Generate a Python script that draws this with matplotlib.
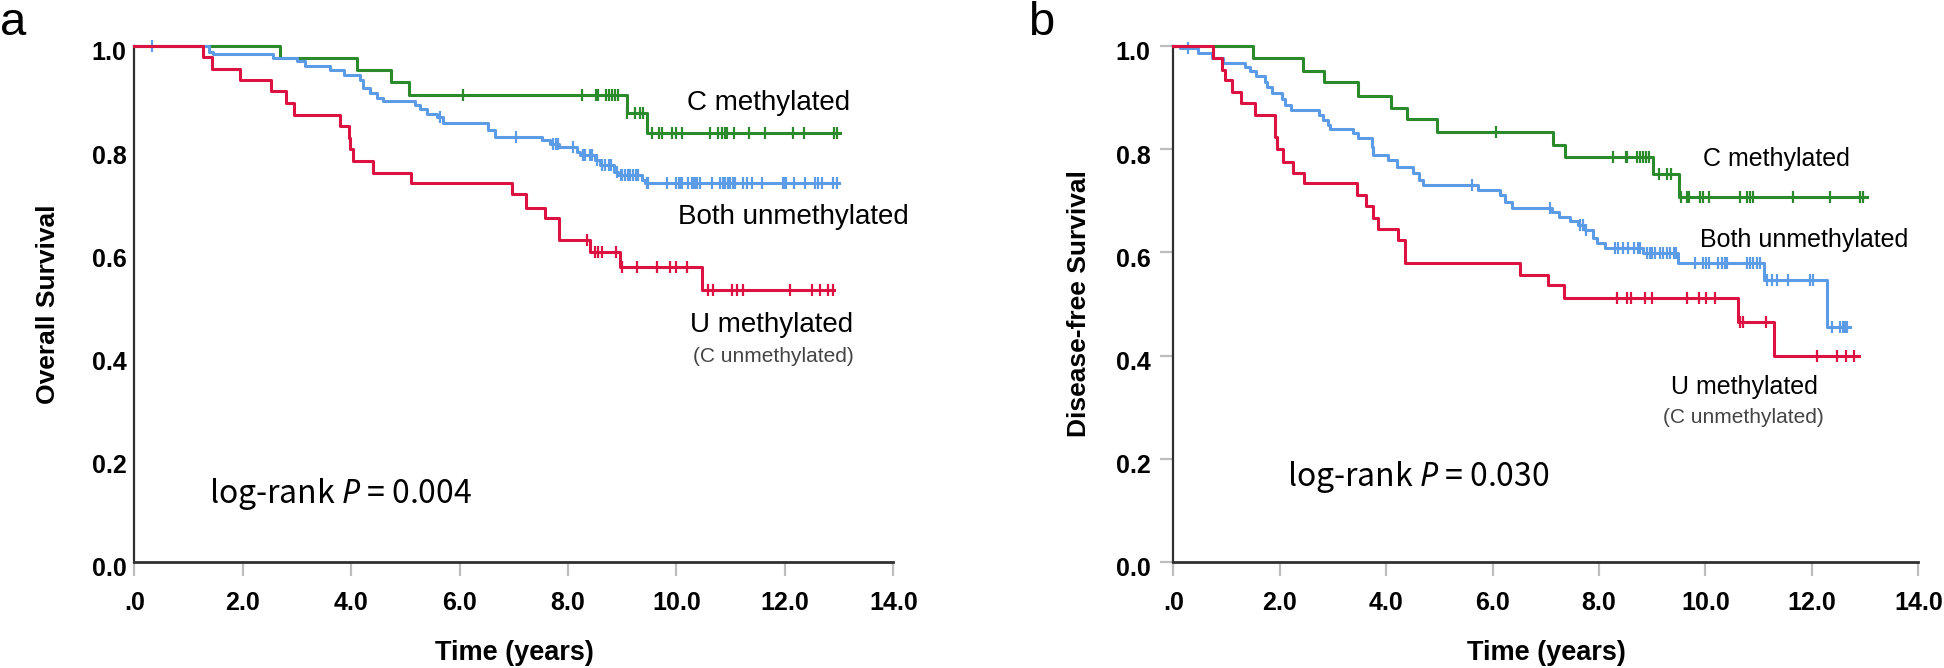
import matplotlib
matplotlib.use("Agg")
import matplotlib.pyplot as plt
import matplotlib.transforms as mtransforms
import numpy as np

plt.rcParams['font.family'] = ['Liberation Sans', 'DejaVu Sans']
plt.rcParams['mathtext.fontset'] = 'custom'
plt.rcParams['mathtext.it'] = 'Noto Sans:italic'
plt.rcParams['mathtext.rm'] = 'Noto Sans CJK KR'

# ---------------- data ----------------
x_ticks = [0, 2, 4, 6, 8, 10, 12, 14]
x_tick_labels = ['.0', '2.0', '4.0', '6.0', '8.0', '10.0', '12.0', '14.0']
y_ticks = [0.0, 0.2, 0.4, 0.6, 0.8, 1.0]
y_tick_labels = ['0.0', '0.2', '0.4', '0.6', '0.8', '1.0']

# Panel a: overall survival
a_green_times = [2.69, 4.11, 4.73, 5.07, 9.08, 9.45]
a_green_surv = [0.976, 0.953, 0.931, 0.905, 0.870, 0.831]
a_green_cens = [6.06, 8.25, 8.52, 8.55, 8.70, 8.75, 8.81, 8.87, 8.93, 9.08, 9.24,
                9.33, 9.39, 9.54, 9.67, 9.73, 9.91, 10.00, 10.10, 10.62, 10.77,
                10.84, 10.90, 10.93, 11.06, 11.33, 11.63, 12.15, 12.35, 12.91, 12.97]
a_green_end = 13.02

a_blue_times = [1.37, 1.46, 2.55, 3.00, 3.15, 3.61, 3.86, 4.16, 4.22, 4.34, 4.47,
                4.59, 5.18, 5.27, 5.39, 5.58, 5.70, 6.53, 6.65, 7.52, 7.67, 7.84,
                8.16, 8.22, 8.50, 8.59, 8.84, 8.93, 9.36, 9.42]
a_blue_surv = [0.988, 0.984, 0.976, 0.971, 0.961, 0.953, 0.944, 0.934, 0.918, 0.909,
               0.899, 0.893, 0.885, 0.878, 0.869, 0.862, 0.851, 0.837, 0.824, 0.818,
               0.811, 0.805, 0.795, 0.789, 0.779, 0.769, 0.756, 0.750, 0.740, 0.735]
a_blue_cens = [0.32, 5.64, 7.04, 7.72, 7.78, 7.82, 8.10, 8.28, 8.31, 8.40, 8.45, 8.53,
               8.62, 8.68, 8.75, 8.80, 8.90, 8.97, 9.00, 9.05, 9.10, 9.15, 9.20, 9.25,
               9.30, 9.45, 9.48, 9.82, 10.00, 10.04, 10.07, 10.10, 10.22, 10.28, 10.31,
               10.34, 10.37, 10.44, 10.65, 10.80, 10.86, 10.90, 10.96, 10.99, 11.05,
               11.08, 11.23, 11.30, 11.39, 11.57, 11.97, 12.00, 12.03, 12.16, 12.37,
               12.56, 12.62, 12.68, 12.89, 12.97]
a_blue_end = 12.99

a_red_times = [1.27, 1.44, 1.95, 2.52, 2.79, 2.95, 3.79, 3.96, 3.98, 4.03, 4.41, 5.10,
               6.96, 7.22, 7.58, 7.83, 8.41, 8.96, 10.47]
a_red_surv = [0.978, 0.955, 0.934, 0.913, 0.890, 0.866, 0.845, 0.822, 0.800, 0.777,
              0.754, 0.734, 0.713, 0.687, 0.666, 0.625, 0.601, 0.572, 0.527]
a_red_cens = [8.35, 8.50, 8.56, 8.62, 8.89, 8.99, 9.27, 9.64, 9.88, 10.00, 10.19,
              10.59, 10.67, 11.03, 11.11, 11.23, 12.10, 12.50, 12.65, 12.80, 12.89]
a_red_end = 12.91

# Panel b: disease-free survival
b_green_times = [1.49, 2.43, 2.83, 3.48, 4.09, 4.40, 4.95, 7.14, 7.36, 9.01, 9.51]
b_green_surv = [0.976, 0.952, 0.930, 0.904, 0.880, 0.858, 0.834, 0.809, 0.785, 0.752, 0.708]
b_green_cens = [6.06, 8.26, 8.51, 8.53, 8.71, 8.77, 8.82, 8.88, 8.94, 9.12, 9.27, 9.35,
                9.55, 9.65, 9.70, 9.90, 9.96, 10.07, 10.64, 10.79, 10.84, 10.89, 11.64,
                12.35, 12.91, 12.97]
b_green_end = 13.03

b_blue_times = [0.13, 0.47, 0.72, 0.94, 1.35, 1.45, 1.55, 1.72, 1.77, 1.85, 2.04, 2.10,
                2.21, 2.74, 2.82, 2.91, 2.94, 3.38, 3.48, 3.73, 3.76, 4.04, 4.20, 4.51,
                4.61, 4.70, 5.73, 6.14, 6.23, 6.36, 7.11, 7.24, 7.46, 7.61, 7.74, 7.89,
                7.96, 8.11, 8.82, 9.49, 11.10, 12.28]
b_blue_surv = [0.996, 0.986, 0.976, 0.968, 0.960, 0.952, 0.942, 0.931, 0.920, 0.908,
               0.897, 0.886, 0.876, 0.866, 0.857, 0.847, 0.840, 0.831, 0.821, 0.805,
               0.789, 0.779, 0.766, 0.753, 0.740, 0.731, 0.721, 0.711, 0.698, 0.687,
               0.679, 0.669, 0.660, 0.653, 0.643, 0.627, 0.618, 0.608, 0.598, 0.579,
               0.547, 0.456]
b_blue_cens = [0.28, 5.61, 7.07, 7.65, 7.70, 7.76, 8.30, 8.36, 8.46, 8.55, 8.65, 8.74,
               8.77, 8.90, 8.96, 8.99, 9.05, 9.15, 9.21, 9.27, 9.33, 9.40, 9.45, 9.81,
               9.96, 10.01, 10.06, 10.24, 10.31, 10.37, 10.40, 10.78, 10.83, 10.90,
               10.97, 11.03, 11.15, 11.25, 11.34, 11.56, 11.97, 12.02, 12.37, 12.53,
               12.59, 12.62, 12.66]
b_blue_end = 12.72

b_red_times = [0.75, 0.91, 0.98, 1.10, 1.27, 1.54, 1.91, 1.94, 2.06, 2.24, 2.46, 3.45,
               3.62, 3.76, 3.84, 4.23, 4.35, 6.52, 7.05, 7.34, 10.62, 11.28]
b_red_surv = [0.976, 0.953, 0.934, 0.911, 0.889, 0.866, 0.824, 0.800, 0.776, 0.754,
              0.734, 0.711, 0.689, 0.666, 0.645, 0.624, 0.579, 0.556, 0.536, 0.512,
              0.466, 0.399]
b_red_cens = [8.33, 8.52, 8.61, 8.86, 8.99, 9.65, 9.88, 10.01, 10.18, 10.65, 10.70,
              11.14, 12.10, 12.48, 12.65, 12.79]
b_red_end = 12.88

GREEN = '#2b8a2b'
BLUE = '#5c9be6'
RED = '#dc1242'

# ---------------- figure ----------------
W, H = 1944, 668
fig = plt.figure(figsize=(W / 100, H / 100), dpi=100)


def px_rect(l, r, t, b):
    return [l / W, 1 - b / H, (r - l) / W, (b - t) / H]


axA = fig.add_axes(px_rect(134.3, 893.3, 46, 562))
axB = fig.add_axes(px_rect(1173.3, 1918.3, 46, 562))


def km(ax, times, surv, cens, end, color):
    t = np.concatenate([[0.0], times, [end]])
    s = np.concatenate([[1.0], surv, [surv[-1]]])
    ax.step(t, s, where='post', color=color, lw=2.2, clip_on=False, zorder=3)
    levels = np.concatenate([[1.0], surv])
    idx = np.searchsorted(np.asarray(times), np.asarray(cens), side='right')
    ax.plot(cens, levels[idx], linestyle='none', marker='|', ms=8.5, mew=1.6,
            color=color, clip_on=False, zorder=3)


def style(ax, ytick_len, ypad):
    ax.set_xlim(0, 14)
    ax.set_ylim(0, 1)
    for sp in ['top', 'right']:
        ax.spines[sp].set_visible(False)
    ax.spines['left'].set_color('#303030')
    ax.spines['left'].set_linewidth(1.6)
    ax.spines['bottom'].set_color('#303030')
    ax.spines['bottom'].set_linewidth(2.0)
    ax.set_xticks(x_ticks)
    ax.set_xticklabels(x_tick_labels, fontweight='bold', fontsize=18)
    ax.set_yticks(y_ticks)
    ax.set_yticklabels(y_tick_labels, fontweight='bold', fontsize=18)
    ax.tick_params(axis='x', length=10, width=1.6, color='#bdbdbd', pad=11)
    ax.tick_params(axis='y', length=ytick_len, width=1.6, color='#bdbdbd', pad=ypad)
    off = mtransforms.ScaledTranslation(0, -5 / 100, fig.dpi_scale_trans)
    for lbl in ax.get_yticklabels():
        lbl.set_transform(lbl.get_transform() + off)


style(axA, 0, 5.5)
style(axB, 9.5, 7)

km(axA, a_green_times, a_green_surv, a_green_cens, a_green_end, GREEN)
km(axA, a_blue_times, a_blue_surv, a_blue_cens, a_blue_end, BLUE)
km(axA, a_red_times, a_red_surv, a_red_cens, a_red_end, RED)

km(axB, b_green_times, b_green_surv, b_green_cens, b_green_end, GREEN)
km(axB, b_blue_times, b_blue_surv, b_blue_cens, b_blue_end, BLUE)
km(axB, b_red_times, b_red_surv, b_red_cens, b_red_end, RED)

# axis titles
fig.text(48 / W, 1 - 304 / H, 'Overall Survival', rotation=90, ha='center', va='center',
         fontsize=19, fontweight='bold')
fig.text(1079 / W, 1 - 304 / H, 'Disease-free Survival', rotation=90, ha='center',
         va='center', fontsize=19, fontweight='bold')
fig.text(514 / W, 1 - 653 / H, 'Time (years)', ha='center', va='center', fontsize=19.5,
         fontweight='bold')
fig.text(1546 / W, 1 - 653 / H, 'Time (years)', ha='center', va='center', fontsize=19.5,
         fontweight='bold')

# panel letters
fig.text(0 / W, 1 - 35 / H, 'a', fontsize=34, va='baseline', ha='left')
fig.text(1028 / W, 1 - 35 / H, 'b', fontsize=34, va='baseline', ha='left')

# curve annotations
axA.text(10.20, 0.875, 'C methylated', fontsize=20, va='baseline')
axA.text(10.03, 0.656, 'Both unmethylated', fontsize=20, va='baseline')
axA.text(10.25, 0.446, 'U methylated', fontsize=20, va='baseline')
axA.text(10.31, 0.388, '(C unmethylated)', fontsize=15, va='baseline', color='#444444')
axA.text(1.38, 0.114, r'log-rank $\mathit{P}$ = 0.004', fontsize=23, va='baseline',
         family='Noto Sans CJK KR')

axB.text(9.95, 0.768, 'C methylated', fontsize=18, va='baseline')
axB.text(9.90, 0.610, 'Both unmethylated', fontsize=18, va='baseline')
axB.text(9.35, 0.326, 'U methylated', fontsize=18, va='baseline')
axB.text(9.20, 0.269, '(C unmethylated)', fontsize=15, va='baseline', color='#444444')
axB.text(2.14, 0.148, r'log-rank $\mathit{P}$ = 0.030', fontsize=23, va='baseline',
         family='Noto Sans CJK KR')

fig.savefig('out.png', dpi=100)
